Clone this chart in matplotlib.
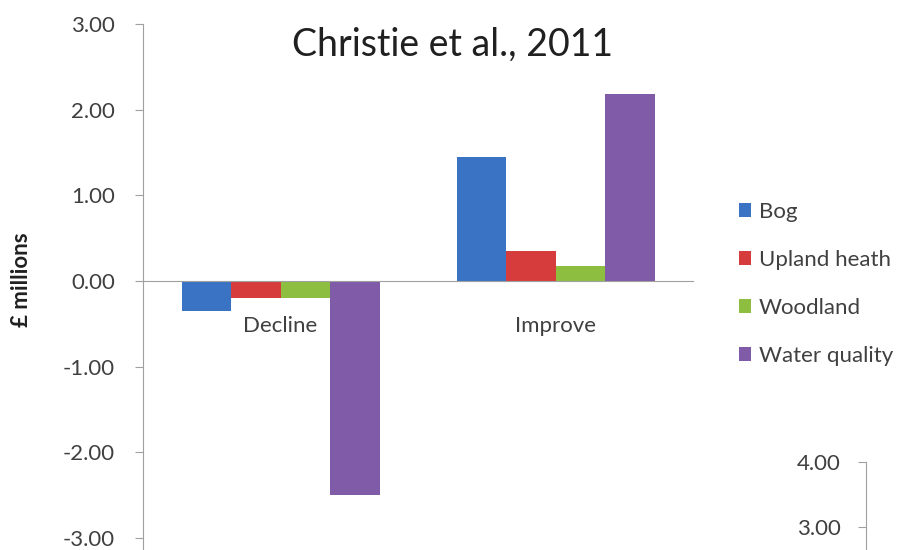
import matplotlib
matplotlib.use("Agg")
import matplotlib.pyplot as plt
import numpy as np

plt.rcParams['font.family'] = ['Lato', 'DejaVu Sans']

categories = ["Decline", "Improve"]
series = ["Bog", "Upland heath", "Woodland", "Water quality"]
bog = [-0.35, 1.45]
upland_heath = [-0.20, 0.35]
woodland = [-0.20, 0.17]
water_quality = [-2.50, 2.18]
values = [bog, upland_heath, woodland, water_quality]
colors = ["#3A72C4", "#D63C3C", "#8EBE40", "#7F5BA8"]
yticks = [-3, -2, -1, 0, 1, 2, 3]
ytick_labels = ["-3.00", "-2.00", "-1.00", "0.00", "1.00", "2.00", "3.00"]
inset_ticks = [3, 4]
inset_labels = ["3.00", "4.00"]

W, H = 906, 550
fig = plt.figure(figsize=(W / 100, H / 100), dpi=100)
fig.patch.set_facecolor("white")

ax = fig.add_axes([143 / W, 0 / H, 550 / W, 526 / H])
x = np.arange(len(categories))
bw = 0.18
for i, (name, vals, c) in enumerate(zip(series, values, colors)):
    ax.bar(x + (i - 1.5) * bw, vals, width=bw, color=c, label=name, edgecolor="none")

ax.set_xlim(-0.5, 1.5)
ax.set_ylim(-3.14, 3.0)
ax.set_yticks(yticks)
ax.set_yticklabels(ytick_labels)
ax.set_xticks(x)
ax.set_xticklabels(categories)
ax.spines['top'].set_visible(False)
ax.spines['right'].set_visible(False)
ax.spines['bottom'].set_position(('data', 0))
ax.spines['bottom'].set_color("#A0A0A0")
ax.spines['left'].set_color("#A0A0A0")
ax.tick_params(axis='y', direction='out', length=6, color="#A0A0A0",
               labelsize=16, labelcolor="#404040", pad=14)
ax.tick_params(axis='x', length=0, labelsize=16, labelcolor="#404040", pad=25)
ax.set_facecolor("white")

fig.text(22 / W, 1 - 280 / H, "£ millions", rotation=90, ha="center", va="center",
         fontsize=16, fontweight="bold", color="#202020")
fig.text(453 / W, 1 - 45 / H, "Christie et al., 2011", ha="center", va="center",
         fontsize=27, color="#202020")

leg = ax.legend(loc="center left", bbox_to_anchor=(728 / W, 1 - 284 / H),
                bbox_transform=fig.transFigure, frameon=False, fontsize=16,
                handlelength=0.55, handleheight=0.55, handletextpad=0.35,
                labelspacing=1.26, borderpad=0)
for t in leg.get_texts():
    t.set_color("#404040")

ax2 = fig.add_axes([866 / W, 0, 36 / W, 88 / H])
ax2.set_ylim(4 - 88 / 65, 4.0)
ax2.set_yticks(inset_ticks)
ax2.set_yticklabels(inset_labels)
ax2.set_xticks([])
for s in ['top', 'right', 'bottom']:
    ax2.spines[s].set_visible(False)
ax2.spines['left'].set_color("#A0A0A0")
ax2.tick_params(axis='y', direction='out', length=6, color="#A0A0A0",
                labelsize=16, labelcolor="#404040", pad=12)
ax2.patch.set_alpha(0)

fig.savefig("out.png", dpi=100, facecolor="white")
